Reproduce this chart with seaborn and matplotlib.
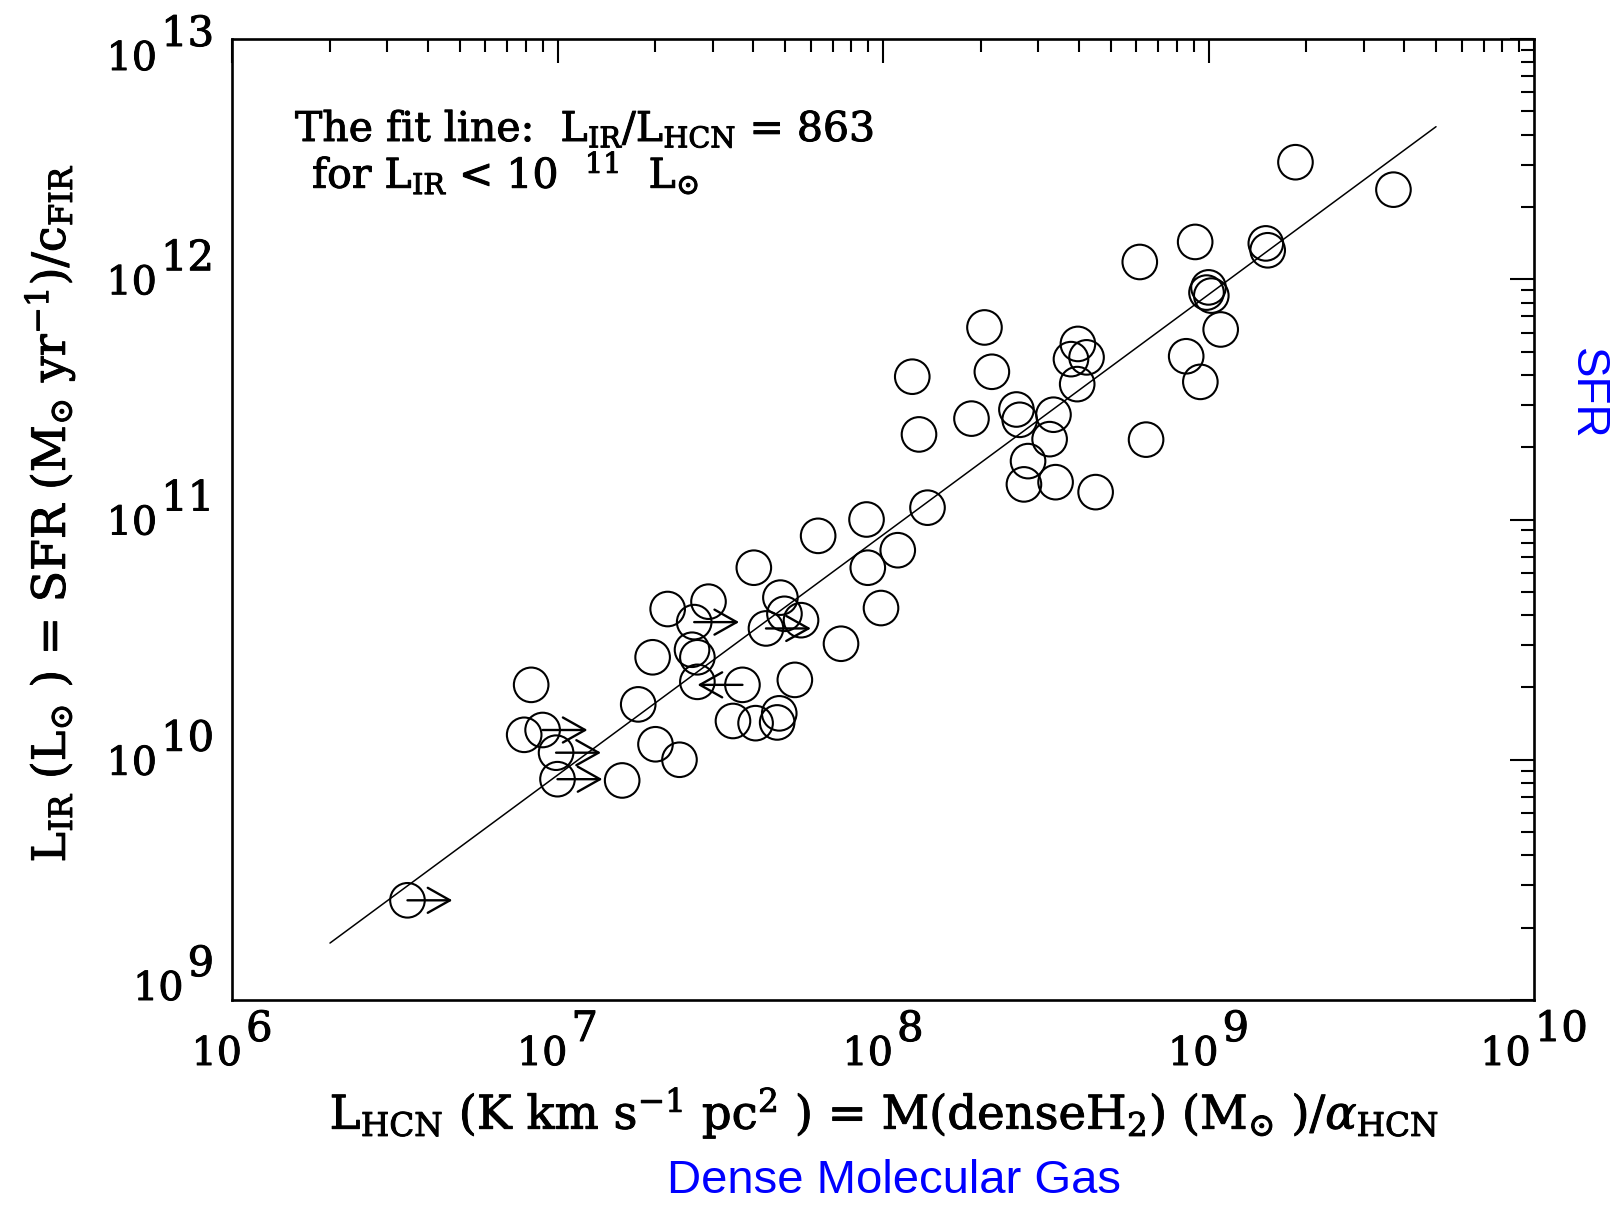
import numpy as np
import pandas as pd
import matplotlib
matplotlib.use("Agg")
import matplotlib.pyplot as plt
import matplotlib.patheffects as pe
import seaborn as sns
from matplotlib.ticker import LogLocator, NullFormatter
from matplotlib.transforms import IdentityTransform

# HCN luminosity (K km s^-1 pc^2) of each galaxy
l_hcn = [3.46e6, 8.3e6, 7.9e6, 9.0e6, 9.9e6, 1.0e7, 1.58e7, 1.77e7, 2.0e7, 2.37e7,
         1.96e7, 2.18e7, 2.91e7, 2.63e7, 2.59e7, 2.69e7, 2.69e7, 3.70e7, 3.46e7, 4.06e7,
         4.80e7, 4.73e7, 5.36e7, 4.01e7, 4.37e7, 4.84e7, 4.98e7, 5.6e7, 6.32e7, 7.43e7,
         8.9e7, 8.98e7, 1.11e8, 9.86e7, 1.37e8, 1.23e8, 1.29e8, 1.87e8, 2.05e8, 2.16e8,
         2.57e8, 2.63e8, 2.79e8, 2.71e8, 3.34e8, 3.25e8, 3.39e8, 3.97e8, 3.78e8, 4.22e8,
         3.95e8, 4.5e8, 6.15e8, 6.43e8, 8.54e8, 9.1e8, 9.44e8, 9.86e8, 1.0e9, 1.02e9,
         1.09e9, 1.50e9, 1.52e9, 1.85e9, 3.70e9]

# Infrared luminosity (L_sun) of each galaxy
l_ir = [2.6e9, 2.05e10, 1.27e10, 1.33e10, 1.07e10, 8.3e9, 8.2e9, 1.70e10, 1.16e10, 1.0e10,
        2.67e10, 4.24e10, 4.55e10, 3.74e10, 2.87e10, 2.67e10, 2.11e10, 2.05e10, 1.45e10, 1.42e10,
        1.56e10, 1.43e10, 2.15e10, 6.3e10, 3.52e10, 4.73e10, 4.05e10, 3.81e10, 8.55e10, 3.04e10,
        1.0e11, 6.3e10, 7.45e10, 4.28e10, 1.12e11, 3.93e11, 2.26e11, 2.63e11, 6.3e11, 4.12e11,
        2.87e11, 2.6e11, 1.75e11, 1.40e11, 2.73e11, 2.16e11, 1.43e11, 5.38e11, 4.65e11, 4.73e11,
        3.66e11, 1.30e11, 1.18e12, 2.15e11, 4.78e11, 1.43e12, 3.74e11, 8.8e11, 9.25e11, 8.55e11,
        6.18e11, 1.41e12, 1.32e12, 3.07e12, 2.36e12]

# HCN limits: '>' lower limit, '<' upper limit, '' detection
hcn_limit = ['>', '', '', '>', '>', '>', '', '', '', '',
             '', '', '', '>', '', '', '', '<', '', '',
             '', '', '', '', '>', '', '', '', '', '',
             '', '', '', '', '', '', '', '', '', '',
             '', '', '', '', '', '', '', '', '', '',
             '', '', '', '', '', '', '', '', '', '',
             '', '', '', '', '']

# Fit: L_IR / L_HCN = 863, drawn over this L_HCN range
fit_ratio = 863
fit_range = [2e6, 5e9]

x_exponents = [6, 7, 8, 9, 10]
y_exponents = [9, 10, 11, 12, 13]

W, H = 1610, 1208
sns.set_style("white")
plt.rcParams["font.family"] = ["DejaVu Serif"]
plt.rcParams["mathtext.fontset"] = "dejavuserif"
plt.rcParams["text.color"] = "black"
plt.rcParams["axes.edgecolor"] = "black"

bold = [pe.withStroke(linewidth=0.7, foreground="black")]

fig = plt.figure(figsize=(W / 100, H / 100), dpi=100)
ax = fig.add_axes([232 / W, 1 - 1000 / H, (1534 - 232) / W, (1000 - 39) / H])

df = pd.DataFrame({"L_HCN": l_hcn, "L_IR": l_ir, "limit": hcn_limit})
fit_df = pd.DataFrame({"L_HCN": fit_range,
                       "L_IR": [fit_ratio * v for v in fit_range]})

sns.lineplot(data=fit_df, x="L_HCN", y="L_IR", ax=ax, color="black",
             linewidth=1.1, zorder=2)
sns.scatterplot(data=df, x="L_HCN", y="L_IR", ax=ax, marker="o", s=620,
                facecolor="none", edgecolor="black", linewidth=1.5,
                legend=False, zorder=3)

# limit arrows start at the galaxy and extend ~0.14 dex
arrow_factor = 10 ** 0.138
for xv, yv, lim in zip(df["L_HCN"], df["L_IR"], df["limit"]):
    if not lim:
        continue
    end = xv * arrow_factor if lim == ">" else xv / arrow_factor
    ax.annotate("", xy=(end, yv), xytext=(xv, yv),
                arrowprops=dict(arrowstyle="->,head_length=0.8,head_width=0.45",
                                color="black", lw=1.7, shrinkA=0, shrinkB=0,
                                mutation_scale=20), zorder=4)

ax.set_xscale("log")
ax.set_yscale("log")
ax.set_xlim(10.0 ** x_exponents[0], 10.0 ** x_exponents[-1])
ax.set_ylim(10.0 ** y_exponents[0], 10.0 ** y_exponents[-1])
for a in (ax.xaxis, ax.yaxis):
    a.set_major_locator(LogLocator(base=10, numticks=20))
    a.set_minor_locator(LogLocator(base=10, subs=np.arange(2, 10), numticks=20))
    a.set_minor_formatter(NullFormatter())
ax.tick_params(which="both", direction="in", top=True, right=True,
               labelbottom=False, labelleft=False, color="black", width=1.5)
ax.tick_params(which="major", length=17)
ax.tick_params(which="minor", length=9.5)
for s in ax.spines.values():
    s.set_linewidth(1.9)
    s.set_color("black")
ax.set_xlabel("")
ax.set_ylabel("")

fig.canvas.draw()
renderer = fig.canvas.get_renderer()


def power_label(anchor_x, base_y, exp, mode):
    base = fig.text(0, 0, "10", fontsize=28.5, transform=IdentityTransform(),
                    ha="left", va="baseline", path_effects=bold)
    sup = fig.text(0, 0, str(exp), fontsize=30, transform=IdentityTransform(),
                   ha="left", va="baseline", path_effects=bold)
    wb = base.get_window_extent(renderer).width
    ws = sup.get_window_extent(renderer).width
    gap = 4
    total = wb + gap + ws
    x0 = anchor_x - total / 2 if mode == "center" else anchor_x - total
    base.set_position((x0, base_y))
    sup.set_position((x0 + wb + gap, base_y + 24))


for e in x_exponents:
    xp = ax.transData.transform((10.0 ** e, 10.0 ** y_exponents[0]))[0]
    power_label(xp, H - 1065, e, "center")

# the outermost y labels are nudged inside the frame's height
y_label_shift = {y_exponents[0]: 0, y_exponents[-1]: -31}
for e in y_exponents:
    yp = ax.transData.transform((10.0 ** x_exponents[0], 10.0 ** e))[1]
    power_label(214, yp + y_label_shift.get(e, -15), e, "right")

# axis titles
fig.text(884 / W, 1 - 1129 / H,
         r"$\mathrm{L_{HCN}}$ (K km s$^{-1}$ pc$^{2}$ ) = M(denseH$_{2}$) "
         r"(M$_{\odot}$ )/$\alpha_{\mathrm{HCN}}$",
         fontsize=33.5, ha="center", va="baseline", path_effects=bold)
fig.text(50 / W, 1 - 513 / H,
         r"$\mathrm{L_{IR}}$ (L$_{\odot}$ ) = SFR (M$_{\odot}$ yr$^{-1}$)/c$_{\mathrm{FIR}}$",
         fontsize=33, ha="center", va="center", rotation=90, path_effects=bold)

# fit annotation
fig.text(295 / W, 1 - 141 / H,
         r"The fit line:  $\mathrm{L_{IR}/L_{HCN}}$ = 863",
         fontsize=29.5, ha="left", va="baseline", path_effects=bold)
fig.text(312 / W, 1 - 188 / H,
         r"for $\mathrm{L_{IR}}$ < 10  $^{11}$  $\mathrm{L_{\odot}}$",
         fontsize=29.5, ha="left", va="baseline", path_effects=bold)

# blue captions
fig.text(894 / W, 1 - 1193 / H, "Dense Molecular Gas", fontsize=34,
         family="Liberation Sans", color="#0000ff", ha="center", va="baseline")
fig.text(1575 / W, 1 - 348 / H, "SFR", fontsize=33, family="Liberation Sans",
         color="#0000ff", rotation=-90, rotation_mode="anchor",
         ha="left", va="baseline")

fig.savefig("out.png", dpi=100, facecolor="white")
